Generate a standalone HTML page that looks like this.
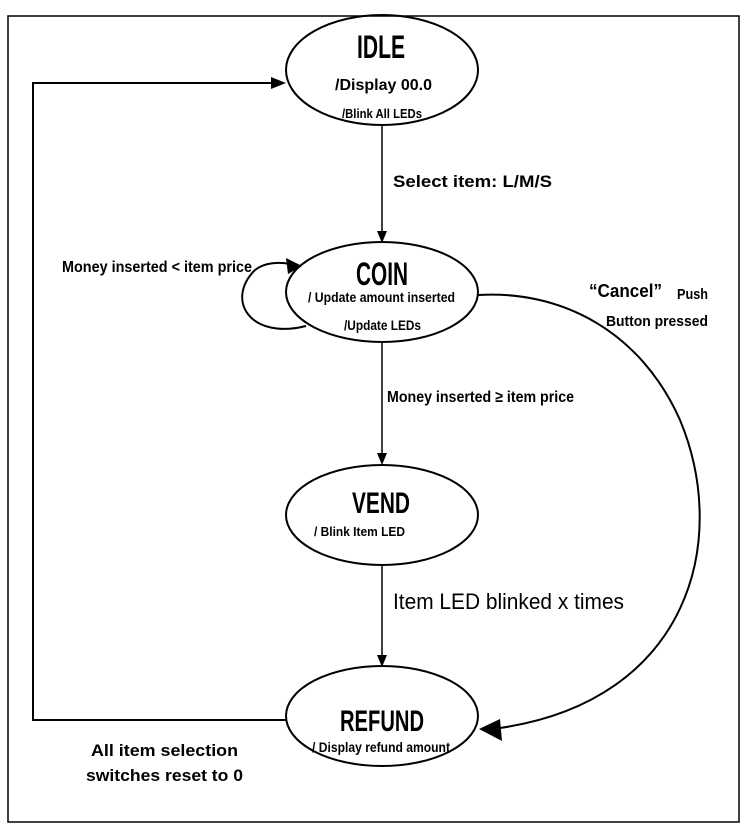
<!DOCTYPE html>
<html><head><meta charset="utf-8"><style>
html,body{margin:0;padding:0;background:#fff;}
svg{display:block;}
text{font-family:"Liberation Sans",sans-serif;fill:#000;}
.b{font-weight:bold;}
</style></head><body>
<svg width="742" height="833" viewBox="0 0 742 833" xmlns="http://www.w3.org/2000/svg">
<rect x="8" y="16" width="731" height="806" fill="#fff" stroke="#000" stroke-width="1.5"/>
<g fill="none" stroke="#000" stroke-width="2">
<ellipse cx="382" cy="70" rx="96" ry="55"/>
<ellipse cx="382" cy="292" rx="96" ry="50"/>
<ellipse cx="382" cy="515" rx="96" ry="50"/>
<ellipse cx="382" cy="716" rx="96" ry="50"/>
<polyline points="286,720 33,720 33,83 272,83"/>
<path d="M306,326 C250,340 225,300 255,270 C265,262 280,262 290,264"/>
<path d="M478,295 C560,290 640,330 680,420 C730,540 690,700 500,728"/>
</g>
<g stroke="#000" stroke-width="1.5">
<line x1="382" y1="125" x2="382" y2="236"/>
<line x1="382" y1="342" x2="382" y2="458"/>
<line x1="382" y1="565" x2="382" y2="660"/>
</g>
<g fill="#000">
<polygon points="286,83 271,77 271,89"/>
<polygon points="382,243 377,231 387,231"/>
<polygon points="382,465 377,453 387,453"/>
<polygon points="382,667 377,655 387,655"/>
<polygon points="302,266 286,258 288,274"/>
<polygon points="479,729 500,719 502,741"/>
</g>
<g lengthAdjust="spacingAndGlyphs">
<text x="357" y="58" class="b" font-size="32" textLength="48" lengthAdjust="spacingAndGlyphs">IDLE</text>
<text x="335" y="90" class="b" font-size="16" textLength="97" lengthAdjust="spacingAndGlyphs">/Display 00.0</text>
<text x="342" y="118" class="b" font-size="13" textLength="80" lengthAdjust="spacingAndGlyphs">/Blink All LEDs</text>
<text x="393" y="187" class="b" font-size="17" textLength="159" lengthAdjust="spacingAndGlyphs">Select item: L/M/S</text>
<text x="356" y="285" class="b" font-size="32" textLength="52" lengthAdjust="spacingAndGlyphs">COIN</text>
<text x="308" y="302" class="b" font-size="14" textLength="147" lengthAdjust="spacingAndGlyphs">/ Update amount inserted</text>
<text x="344" y="330" class="b" font-size="14" textLength="77" lengthAdjust="spacingAndGlyphs">/Update LEDs</text>
<text x="62" y="272" class="b" font-size="16" textLength="190" lengthAdjust="spacingAndGlyphs">Money inserted &lt; item price</text>
<text x="589" y="297" class="b" font-size="18" textLength="73" lengthAdjust="spacingAndGlyphs">“Cancel”</text>
<text x="677" y="299" class="b" font-size="15" textLength="31" lengthAdjust="spacingAndGlyphs">Push</text>
<text x="606" y="326" class="b" font-size="15" textLength="102" lengthAdjust="spacingAndGlyphs">Button pressed</text>
<text x="387" y="402" class="b" font-size="16" textLength="187" lengthAdjust="spacingAndGlyphs">Money inserted ≥ item price</text>
<text x="352" y="527" class="b" font-size="30" textLength="58" lengthAdjust="spacingAndGlyphs" style="display:none">VEND</text>
<text x="352" y="513" class="b" font-size="30" textLength="58" lengthAdjust="spacingAndGlyphs">VEND</text>
<text x="314" y="536" class="b" font-size="13" textLength="91" lengthAdjust="spacingAndGlyphs">/ Blink Item LED</text>
<text x="393" y="609" font-size="22" textLength="231" lengthAdjust="spacingAndGlyphs">Item LED blinked x times</text>
<text x="340" y="731" class="b" font-size="30" textLength="84" lengthAdjust="spacingAndGlyphs">REFUND</text>
<text x="312" y="752" class="b" font-size="14" textLength="138" lengthAdjust="spacingAndGlyphs">/ Display refund amount</text>
<text x="91" y="756" class="b" font-size="17" textLength="147" lengthAdjust="spacingAndGlyphs">All item selection</text>
<text x="86" y="781" class="b" font-size="17" textLength="157" lengthAdjust="spacingAndGlyphs">switches reset to 0</text>
</g>
</svg>
</body></html>
